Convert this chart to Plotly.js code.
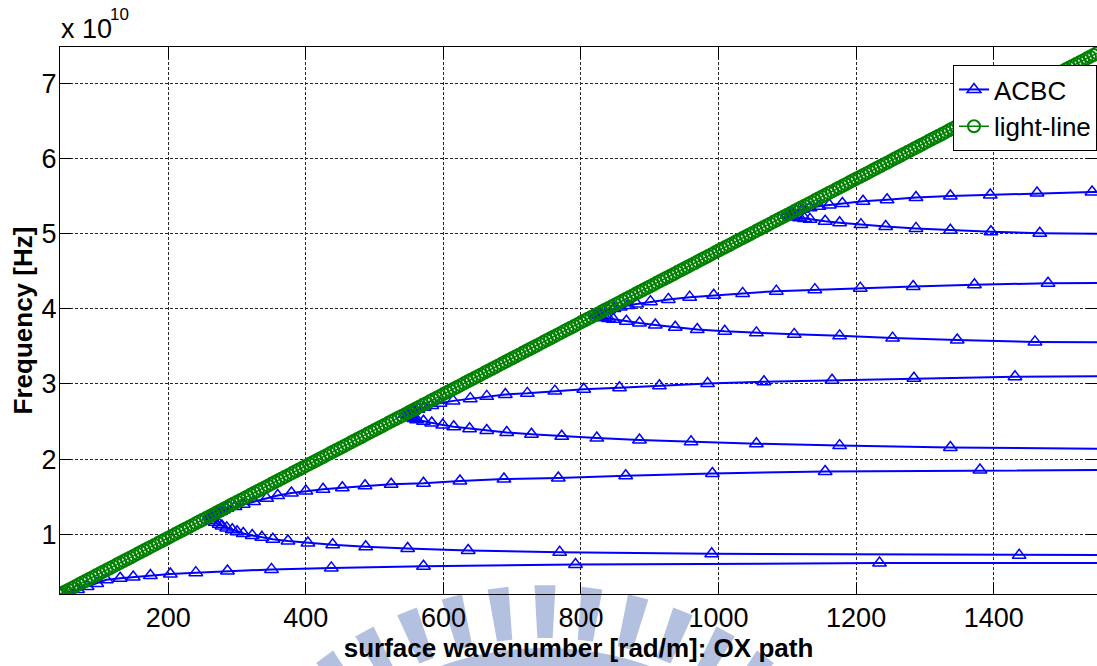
<!DOCTYPE html>
<html>
<head>
<meta charset="utf-8">
<script src="https://cdn.plot.ly/plotly-3.0.1.min.js"></script>
<style>html,body{margin:0;padding:0;background:#fff;}#chart{width:1097px;height:666px;}</style>
</head>
<body>
<div id="chart"></div>
<script>
// Frequencies in units of 1e10 Hz; wavenumber in rad/m
const xTickVals = [200, 400, 600, 800, 1000, 1200, 1400];
const yTickVals = [1, 2, 3, 4, 5, 6, 7];

// ACBC branches (k, f)
const b0K = [42.55, 55, 68, 82, 96, 110, 130, 149, 174, 203, 240, 286, 350, 437, 571, 792, 1234, 3500];
const b0F = [0.203, 0.23, 0.265, 0.305, 0.345, 0.395, 0.415, 0.432, 0.452, 0.472, 0.49, 0.512, 0.533, 0.553, 0.575, 0.598, 0.617, 0.63];

const d1K = [260, 262, 265, 268, 274, 278, 285, 293, 300, 309, 322, 336, 352, 374, 403, 439, 487, 548, 636, 769, 990, 1437, 2300];
const d1F = [1.235, 1.21, 1.185, 1.16, 1.135, 1.11, 1.085, 1.06, 1.035, 1.01, 0.985, 0.96, 0.935, 0.91, 0.885, 0.86, 0.835, 0.81, 0.785, 0.76, 0.74, 0.72, 0.705];

const u1K = [260, 263, 267, 271, 276, 280, 285, 297, 309, 324, 343, 359, 379, 400, 425, 453, 486, 524, 571, 624, 688, 767, 865, 991, 1155, 1380, 2000];
const u1F = [1.24, 1.252, 1.268, 1.285, 1.305, 1.325, 1.345, 1.37, 1.40, 1.436, 1.478, 1.515, 1.55, 1.575, 1.598, 1.62, 1.645, 1.665, 1.68, 1.71, 1.735, 1.75, 1.78, 1.81, 1.835, 1.855, 1.88];

const d2K = [545, 548, 551, 554, 557, 561, 571, 583, 599, 615, 638, 663, 692, 728, 772, 823, 885, 960, 1055, 1176, 1337, 2000];
const d2F = [2.602, 2.585, 2.57, 2.555, 2.54, 2.525, 2.505, 2.48, 2.455, 2.43, 2.405, 2.38, 2.355, 2.33, 2.305, 2.28, 2.255, 2.23, 2.205, 2.18, 2.155, 2.10];

const u2K = [545, 550, 556, 563, 572, 583, 595, 614, 639, 663, 690, 722, 762, 804, 856, 914, 984, 1066, 1165, 1284, 1431, 1800];
const u2F = [2.602, 2.62, 2.64, 2.665, 2.69, 2.715, 2.745, 2.775, 2.805, 2.835, 2.86, 2.875, 2.905, 2.93, 2.95, 2.975, 3.005, 3.03, 3.05, 3.075, 3.095, 3.115];

const d3K = [822, 826, 830, 835, 840, 847, 866, 885, 908, 937, 969, 1009, 1055, 1110, 1176, 1253, 1347, 1460, 2200];
const d3F = [3.925, 3.91, 3.895, 3.88, 3.87, 3.86, 3.835, 3.81, 3.785, 3.755, 3.725, 3.70, 3.68, 3.66, 3.64, 3.61, 3.585, 3.56, 3.53];

const u3K = [822, 827, 833, 840, 848, 857, 868, 881, 901, 927, 958, 993, 1035, 1084, 1140, 1206, 1283, 1372, 1479, 1800];
const u3F = [3.925, 3.945, 3.965, 3.985, 4.005, 4.025, 4.045, 4.065, 4.095, 4.125, 4.155, 4.18, 4.205, 4.235, 4.255, 4.275, 4.297, 4.32, 4.34, 4.36];

const d4K = [1100, 1104, 1108, 1113, 1118, 1125, 1133, 1155, 1176, 1207, 1243, 1287, 1337, 1396, 1467, 1800];
const d4F = [5.252, 5.24, 5.23, 5.22, 5.21, 5.20, 5.19, 5.165, 5.145, 5.12, 5.095, 5.07, 5.045, 5.025, 5.005, 4.975];

const u4K = [1100, 1106, 1113, 1122, 1133, 1146, 1161, 1180, 1210, 1245, 1287, 1337, 1395, 1463, 1543, 2000];
const u4F = [5.252, 5.275, 5.30, 5.325, 5.345, 5.365, 5.38, 5.40, 5.43, 5.45, 5.48, 5.50, 5.515, 5.54, 5.555, 5.58];

// light-line samples (k, f)
const llK = [42.55,
45,50,55,60,65,70,75,80,85,90,95,
100,105,110,115,120,125,130,135,140,145,150,155,160,165,170,175,180,185,190,195,
200,205,210,215,220,225,230,235,240,245,250,255,260,265,270,275,280,285,290,295,
300,305,310,315,320,325,330,335,340,345,350,355,360,365,370,375,380,385,390,395,
400,405,410,415,420,425,430,435,440,445,450,455,460,465,470,475,480,485,490,495,
500,505,510,515,520,525,530,535,540,545,550,555,560,565,570,575,580,585,590,595,
600,605,610,615,620,625,630,635,640,645,650,655,660,665,670,675,680,685,690,695,
700,705,710,715,720,725,730,735,740,745,750,755,760,765,770,775,780,785,790,795,
800,805,810,815,820,825,830,835,840,845,850,855,860,865,870,875,880,885,890,895,
900,905,910,915,920,925,930,935,940,945,950,955,960,965,970,975,980,985,990,995,
1000,1005,1010,1015,1020,1025,1030,1035,1040,1045,1050,1055,1060,1065,1070,1075,1080,1085,1090,1095,
1100,1105,1110,1115,1120,1125,1130,1135,1140,1145,1150,1155,1160,1165,1170,1175,1180,1185,1190,1195,
1200,1205,1210,1215,1220,1225,1230,1235,1240,1245,1250,1255,1260,1265,1270,1275,1280,1285,1290,1295,
1300,1305,1310,1315,1320,1325,1330,1335,1340,1345,1350,1355,1360,1365,1370,1375,1380,1385,1390,1395,
1400,1405,1410,1415,1420,1425,1430,1435,1440,1445,1450,1455,1460,1465,1470,1475,1480,1485,1490,1495,
1500,1505,1510,1515,1520,1525,1530,1535,1540,1545,1550];
const llF = [0.203,
0.215,0.239,0.263,0.286,0.310,0.334,0.358,0.382,0.406,0.430,0.454,
0.477,0.501,0.525,0.549,0.573,0.597,0.621,0.645,0.668,0.692,0.716,0.740,0.764,0.788,0.812,0.836,0.859,0.883,0.907,0.931,
0.955,0.979,1.003,1.027,1.050,1.074,1.098,1.122,1.146,1.170,1.194,1.218,1.241,1.265,1.289,1.313,1.337,1.361,1.385,1.409,
1.432,1.456,1.480,1.504,1.528,1.552,1.576,1.599,1.623,1.647,1.671,1.695,1.719,1.743,1.767,1.790,1.814,1.838,1.862,1.886,
1.910,1.934,1.958,1.981,2.005,2.029,2.053,2.077,2.101,2.125,2.149,2.172,2.196,2.220,2.244,2.268,2.292,2.316,2.340,2.363,
2.387,2.411,2.435,2.459,2.483,2.507,2.531,2.554,2.578,2.602,2.626,2.650,2.674,2.698,2.722,2.745,2.769,2.793,2.817,2.841,
2.865,2.889,2.913,2.936,2.960,2.984,3.008,3.032,3.056,3.080,3.103,3.127,3.151,3.175,3.199,3.223,3.247,3.271,3.294,3.318,
3.342,3.366,3.390,3.414,3.438,3.462,3.485,3.509,3.533,3.557,3.581,3.605,3.629,3.653,3.676,3.700,3.724,3.748,3.772,3.796,
3.820,3.844,3.867,3.891,3.915,3.939,3.963,3.987,4.011,4.035,4.058,4.082,4.106,4.130,4.154,4.178,4.202,4.226,4.249,4.273,
4.297,4.321,4.345,4.369,4.393,4.417,4.440,4.464,4.488,4.512,4.536,4.560,4.584,4.607,4.631,4.655,4.679,4.703,4.727,4.751,
4.775,4.798,4.822,4.846,4.870,4.894,4.918,4.942,4.966,4.989,5.013,5.037,5.061,5.085,5.109,5.133,5.157,5.180,5.204,5.228,
5.252,5.276,5.300,5.324,5.348,5.371,5.395,5.419,5.443,5.467,5.491,5.515,5.539,5.562,5.586,5.610,5.634,5.658,5.682,5.706,
5.730,5.753,5.777,5.801,5.825,5.849,5.873,5.897,5.921,5.944,5.968,5.992,6.016,6.040,6.064,6.088,6.111,6.135,6.159,6.183,
6.207,6.231,6.255,6.279,6.302,6.326,6.350,6.374,6.398,6.422,6.446,6.470,6.493,6.517,6.541,6.565,6.589,6.613,6.637,6.661,
6.684,6.708,6.732,6.756,6.780,6.804,6.828,6.852,6.875,6.899,6.923,6.947,6.971,6.995,7.019,7.043,7.066,7.090,7.114,7.138,
7.162,7.186,7.210,7.234,7.257,7.281,7.305,7.329,7.353,7.377,7.401];

const branchK = [b0K, d1K, u1K, d2K, u2K, d3K, u3K, d4K, u4K];
const branchF = [b0F, d1F, u1F, d2F, u2F, d3F, u3F, d4F, u4F];
const acbcX = [], acbcY = [];
branchK.forEach((ks, i) => {
  if (i > 0) { acbcX.push(null); acbcY.push(null); }
  ks.forEach((k, j) => { acbcX.push(k); acbcY.push(branchF[i][j]); });
});

const FONT = 'Liberation Sans, Arial, Helvetica, sans-serif';

// faint background watermark (decoration, not data): radial bars + arc, in page pixels
const WM = {cx: 545, cy: 960, rIn: 322, rOut: 375, ringIn: 274, ringOut: 312, pitch: 7.2, half: 1.6, color: '#b3c0e0'};
const PLOT = {l: 60, t: 47, w: 1037, h: 547};
function toPaper(x, y) { return [(x - PLOT.l) / PLOT.w, (PLOT.t + PLOT.h - y) / PLOT.h]; }
function polar(r, deg) {
  const a = deg * Math.PI / 180;
  return toPaper(WM.cx + r * Math.sin(a), WM.cy - r * Math.cos(a));
}
function pathFrom(pts) { return 'M' + pts.map(p => p[0].toFixed(5) + ',' + p[1].toFixed(5)).join('L') + 'Z'; }
const shapes = [];
for (let n = -6; n <= 6; n++) {
  const c = n * WM.pitch;
  shapes.push({type: 'path', xref: 'paper', yref: 'paper', layer: 'below', fillcolor: WM.color, line: {width: 0},
    path: pathFrom([polar(WM.rIn, c - WM.half * 0.85), polar(WM.rOut, c - WM.half), polar(WM.rOut, c + WM.half), polar(WM.rIn, c + WM.half * 0.85)])});
}
const ringPts = [];
for (let d = -50; d <= 50; d += 2) ringPts.push(polar(WM.ringOut, d));
for (let d = 50; d >= -50; d -= 2) ringPts.push(polar(WM.ringIn, d));
shapes.push({type: 'path', xref: 'paper', yref: 'paper', layer: 'below', fillcolor: WM.color, line: {width: 0}, path: pathFrom(ringPts)});

const traces = [
  {
    x: acbcX, y: acbcY, name: 'ACBC', type: 'scatter', mode: 'lines+markers',
    connectgaps: false,
    line: {color: '#0000ff', width: 2},
    marker: {symbol: 'triangle-up-open', size: 12, color: '#0000ff', line: {width: 1.5, color: '#0000ff'}}
  },
  {
    x: llK, y: llF, name: 'light-line', type: 'scatter', mode: 'lines+markers',
    line: {color: '#008000', width: 1.5},
    marker: {symbol: 'circle-open', size: 12, color: '#008000', line: {width: 2, color: '#008000'}}
  }
];

const axisCommon = {
  ticks: 'inside', ticklen: 11, tickwidth: 1, tickcolor: '#000',
  showline: true, linecolor: '#000', linewidth: 1, mirror: 'allticks',
  showgrid: true, gridcolor: '#262626', gridwidth: 1, griddash: '3px,2px',
  zeroline: false,
  tickfont: {family: FONT, size: 27, color: '#000'}
};

const layout = {
  width: 1097, height: 666, autosize: false,
  margin: {l: 60, r: 0, t: 47, b: 72, pad: 0},
  paper_bgcolor: '#fff', plot_bgcolor: 'rgba(0,0,0,0)',
  showlegend: true,
  shapes: shapes,
  xaxis: Object.assign({}, axisCommon, {
    range: [42.55, 1550.2], tickvals: xTickVals,
    title: {text: 'surface wavenumber [rad/m]: OX path', font: {family: FONT, size: 26, color: '#000', weight: 'bold'}, standoff: 5}
  }),
  yaxis: Object.assign({}, axisCommon, {
    range: [0.2058, 7.483], tickvals: yTickVals, ticklabelstandoff: -3,
    title: {text: 'Frequency [Hz]', font: {family: FONT, size: 26, color: '#000', weight: 'bold'}, standoff: 1}
  }),
  legend: {
    x: 1, xanchor: 'right', y: 0.967, yanchor: 'top',
    bgcolor: '#fff', bordercolor: '#000', borderwidth: 1,
    font: {family: FONT, size: 26, color: '#000'},
    tracegroupgap: 0
  },
  annotations: [
    {text: 'x 10', xref: 'paper', yref: 'paper', x: 0, y: 1.004, xanchor: 'left', yanchor: 'bottom',
     showarrow: false, font: {family: FONT, size: 27, color: '#000'}, borderpad: 0},
    {text: '10', xref: 'paper', yref: 'paper', x: 0.0473, y: 1.0603, xanchor: 'left', yanchor: 'middle',
     showarrow: false, font: {family: FONT, size: 17, color: '#000'}, borderpad: 0}
  ]
};

Plotly.newPlot('chart', traces, layout, {displayModeBar: false, staticPlot: true});
</script>
</body>
</html>
